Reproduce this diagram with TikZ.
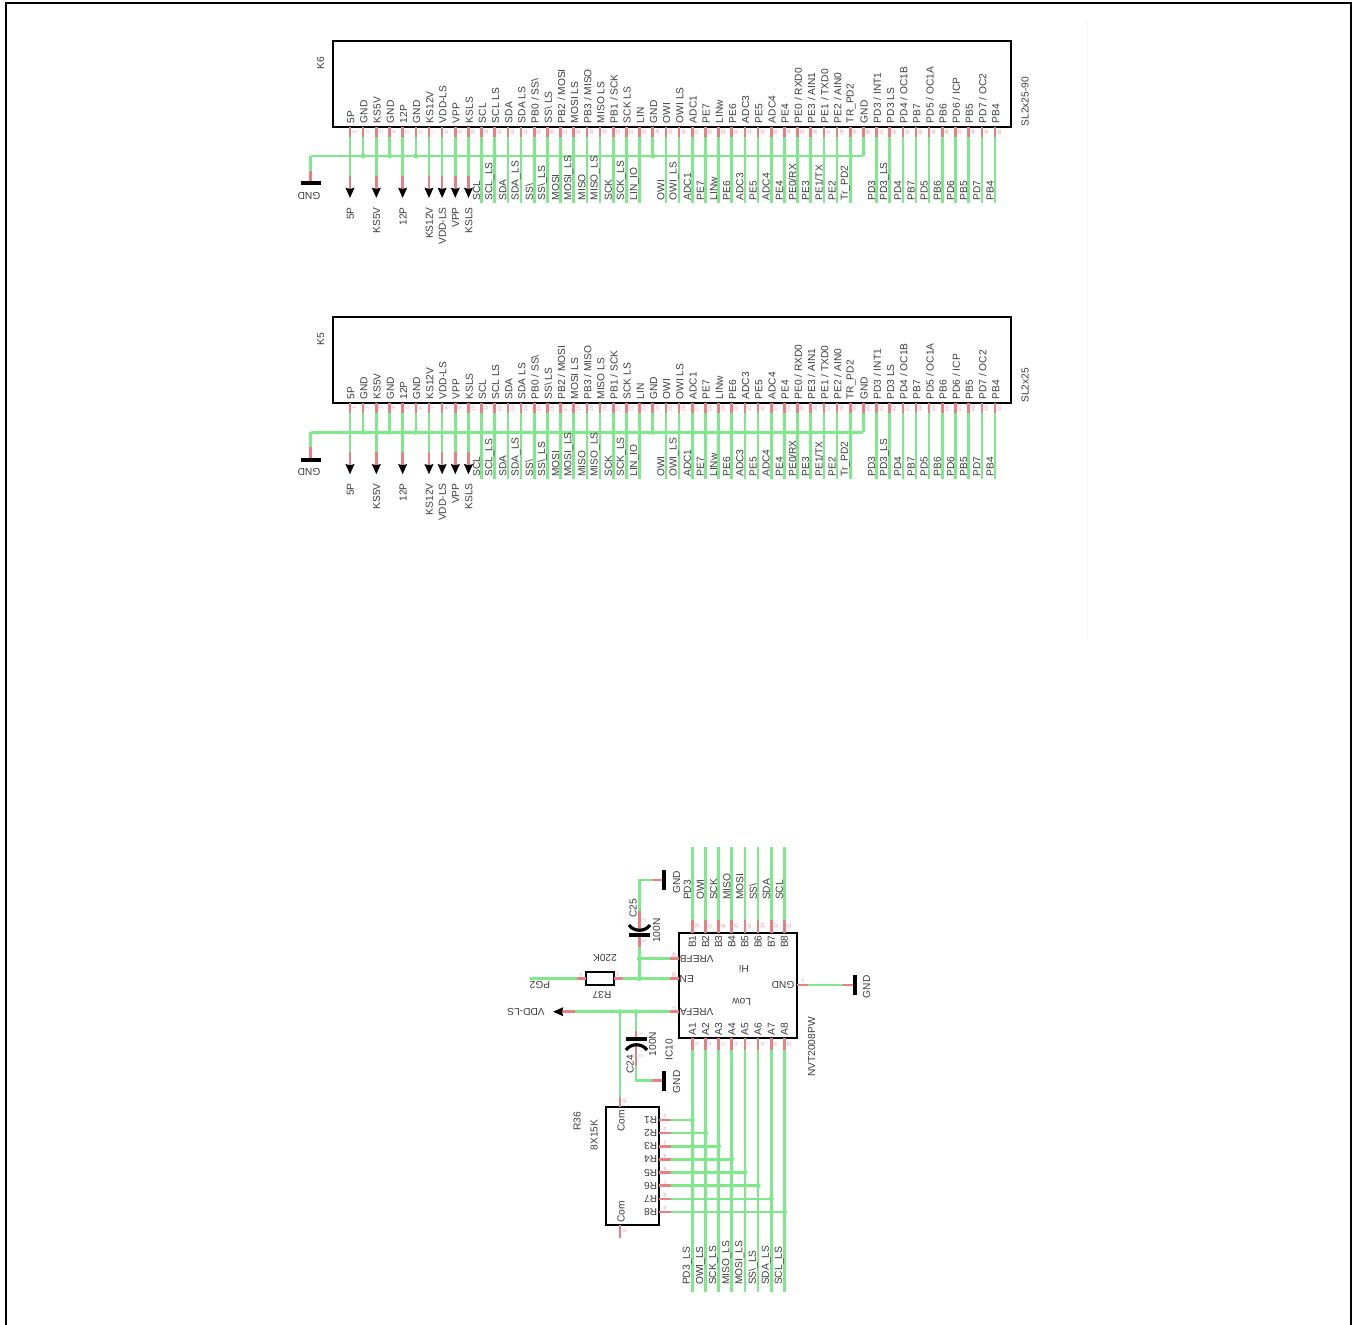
\documentclass[tikz,border=0pt]{standalone}
\usepackage{fontspec}
\setmainfont{Liberation Sans}
\usetikzlibrary{arrows.meta}
\definecolor{wiregreen}{HTML}{7FE88A}
\definecolor{pinred}{HTML}{E87F87}
\definecolor{labelink}{HTML}{3C3C3C}
\definecolor{numpink}{HTML}{E89AA0}
\tikzset{
  wire/.style={wiregreen,line width=2.6pt},
  pinstub/.style={pinred,line width=2.6pt},
  outline/.style={draw=black,line width=2.2pt,inner sep=0pt,outer sep=0pt},
  plate/.style={black,line width=3.2pt},
  gndbar/.style={black,line width=4pt},
  dot/.style={circle,fill=wiregreen,inner sep=0pt,minimum size=5pt},
  lab/.style={font=\fontsize{10.2}{10.2}\selectfont,text=labelink,inner sep=0pt},
  uplab/.style={lab,rotate=90},
  downlab/.style={lab,rotate=180},
  pinnum/.style={font=\fontsize{5}{5}\selectfont,text=numpink,inner sep=0pt,rotate=90},
  pinnumh/.style={font=\fontsize{5}{5}\selectfont,text=numpink,inner sep=0pt,rotate=180},
  tip/.style={-{Stealth[length=10pt,width=8.5pt,inset=1pt,black]}}
}
\def\upperlist{5P,GND,KS5V,GND,12P,GND,KS12V,VDD-LS,VPP,KSLS,SCL,SCL LS,SDA,SDA LS,PB0 / SS\textbackslash,SS\textbackslash{} LS,PB2 / MOSI,MOSI LS,PB3 / MISO,MISO LS,PB1 / SCK,SCK LS,LIN,GND,OWI,OWI LS,ADC1,PE7,LINw,PE6,ADC3,PE5,ADC4,PE4,PE0 / RXD0,PE3 / AIN1,PE1 / TXD0,PE2 / AIN0,TR\_PD2,GND,PD3 / INT1,PD3 LS,PD4 / OC1B,PB7,PD5 / OC1A,PB6,PD6 / ICP,PB5,PD7 / OC2,PB4}
\newcommand{\connector}[4]{%
\begin{scope}[yshift=#2]
  \node[outline,minimum width=678pt,minimum height=86pt,anchor=north west] (#1) at (333,41) {};
  \node[uplab] (#1name) at (320.7,63) {#1};
  \node[uplab] (#1val) at (1025,#4) {#3};
  \coordinate (#1gndA) at (310.7,156);
  \coordinate (#1gndB) at (310.7,171);
  \coordinate (#1gndC) at (310.7,183.3);
  \coordinate (#1gndE) at (863.3,156);
  \foreach \t [count=\i] in \upperlist {
    \pgfmathsetmacro\px{350+(\i-1)*13.163}
    \coordinate (#1p\i) at (\px,127);
    \coordinate (#1q\i) at (\px,137);
    \coordinate (#1b\i) at (\px,156);
    \node[uplab,anchor=west] (#1u\i) at (\px+0.8,123.3) {\t};
    \node[pinnum] (#1n\i) at (\px+4.5,132) {\i};
  }
  \draw[wire] (#1gndA) -- (#1gndB);
  \draw[wire] (#1gndA) -- (#1gndE);
  \draw[pinstub] (#1gndB) -- (#1gndC);
  \draw[gndbar] (300.7,183.3) -- (320.7,183.3);
  \node[downlab] (#1gl) at (309,196) {GND};
  \foreach \i in {2,4,6,24,40} {
    \draw[wire] (#1q\i) -- (#1b\i);
    \ifnum\i<40 \node[dot] (#1j\i) at (#1b\i) {};\fi
  }
  \foreach \i/\t in {1/5P,3/KS5V,5/12P,7/KS12V,8/VDD-LS,9/VPP,10/KSLS} {
    \path (#1p\i) ++(0,49) coordinate (#1r\i) ++(0,22) coordinate (#1e\i);
    \draw[wire] (#1q\i) -- (#1r\i);
    \draw[pinstub,tip] (#1r\i) -- (#1e\i);
    \path (#1p\i) ++(0.3,80) node[uplab,anchor=east] (#1t\i) {\t};
  }
  \foreach \i/\t in {11/SCL,12/SCL\_LS,13/SDA,14/SDA\_LS,15/SS\textbackslash,16/SS\textbackslash\_LS,17/MOSI,18/MOSI\_LS,19/MISO,20/MISO\_LS,21/SCK,22/SCK\_LS,23/LIN\_IO,25/OWI,26/OWI\_LS,27/ADC1,28/PE7,29/LINw,30/PE6,31/ADC3,32/PE5,33/ADC4,34/PE4,35/PE0\slash RX,36/PE3,37/PE1\slash TX,38/PE2,39/Tr\_PD2,41/PD3,42/PD3\_LS,43/PD4,44/PB7,45/PD5,46/PB6,47/PD6,48/PB5,49/PD7,50/PB4} {
    \path (#1p\i) ++(0,76) coordinate (#1e\i);
    \draw[wire] (#1q\i) -- (#1e\i);
    \path (#1p\i) ++(-5,73.5) node[uplab,anchor=west] (#1t\i) {\t};
  }
  \foreach \t [count=\i] in \upperlist {
    \draw[pinstub] (#1p\i) -- (#1q\i);
  }
\end{scope}}
\begin{document}
\begin{tikzpicture}[x=1pt,y=-1pt]
\useasboundingbox (0,0) rectangle (1352,1325);
\fill[white] (0,0) rectangle (1352,1325);
% sheet frame
\draw[black,line width=2.4pt] (6,1325) -- (6,3) -- (1350.8,3) -- (1350.8,1325);
\draw[black!4,line width=0.8pt] (1087,20) -- (1087,640);

\connector{K6}{0pt}{SL2x25-90}{101.7}
\connector{K5}{-276.3pt}{SL2x25}{109}

% ---- level shifter IC10
\node[outline,minimum width=118pt,minimum height=105pt,anchor=north west] (ic) at (679,933) {};
\node[uplab] (icname) at (669,1050) {IC10};
\node[uplab] (icval) at (811.7,1047) {NVT2008PW};
\node[downlab] (icH) at (744,969) {Hi};
\node[downlab] (icL) at (741.7,1001.7) {Low};
\node[downlab] (icVB) at (696.7,958.7) {VREFB};
\node[downlab] (icEN) at (686.7,978.7) {EN};
\node[downlab] (icVA) at (696.7,1011.7) {VREFA};
\node[downlab] (icG) at (783,984.5) {GND};

\foreach \k/\tb/\ta/\nb/\na in {
  1/PD3/{PD3\_LS}/18/3,
  2/OWI/{OWI\_LS}/17/4,
  3/SCK/{SCK\_LS}/16/5,
  4/MISO/{MISO\_LS}/15/6,
  5/MOSI/{MOSI\_LS}/14/7,
  6/SS\textbackslash/{SS\textbackslash\_LS}/13/8,
  7/SDA/{SDA\_LS}/12/9,
  8/SCL/{SCL\_LS}/11/10} {
  \pgfmathsetmacro\px{692.3+(\k-1)*13.16}
  \coordinate (bp\k) at (\px,933);
  \coordinate (bq\k) at (\px,920);
  \coordinate (be\k) at (\px,847);
  \coordinate (ap\k) at (\px,1038);
  \coordinate (aq\k) at (\px,1050);
  \coordinate (ae\k) at (\px,1292);
  \draw[wire] (be\k) -- (bq\k);
  \draw[pinstub] (bq\k) -- (bp\k);
  \draw[wire] (aq\k) -- (ae\k);
  \draw[pinstub] (ap\k) -- (aq\k);
  \node[uplab] (bl\k) at (\px,941.7) {B\k};
  \node[uplab] (al\k) at (\px,1029.5) {A\k};
  \node[uplab,anchor=west] (bt\k) at (\px-5,900) {\tb};
  \node[uplab,anchor=west] (at\k) at (\px-5,1285) {\ta};
  \node[pinnum] (bn\k) at (\px+4.5,926) {\nb};
  \node[pinnum] (an\k) at (\px+4.5,1044) {\na};
}

% ---- GND at right of IC
\coordinate (gr0) at (797,985);
\coordinate (gr1) at (808,985);
\coordinate (gr2) at (843,985);
\coordinate (gr3) at (855,985);
\draw[wire] (gr1) -- (gr2);
\draw[pinstub] (gr0) -- (gr1);
\draw[pinstub] (gr2) -- (gr3);
\draw[gndbar] (855,975) -- (855,995);
\node[uplab] (grl) at (866.7,986.7) {GND};
\node[pinnumh] (grn) at (803,981.5) {1};

% ---- C25 and VREFB / EN
\coordinate (c25gnd) at (664.3,880);
\coordinate (c25s) at (652,880);
\coordinate (c25c) at (639.3,880);
\coordinate (c25a) at (639.3,911);
\coordinate (c25b) at (639.3,929);
\coordinate (c25d) at (639.3,935);
\coordinate (c25e) at (639.3,947);
\coordinate (jvb) at (639.3,958.7);
\coordinate (jen) at (639.3,978.7);
\draw[wire] (c25s) -- (c25c) -- (c25a);
\draw[pinstub] (c25gnd) -- (c25s);
\draw[pinstub] (c25a) -- (c25b);
\draw[pinstub] (c25d) -- (c25e);
\draw[wire] (c25e) -- (jen);
\draw[gndbar] (664.3,870) -- (664.3,890);
\node[uplab] (gt) at (676.7,882) {GND};
\draw[plate] (629,925) .. controls (634,932) and (645,932) .. (650,925);
\draw[plate] (629,935) -- (650,935);
\node[uplab] (c25n) at (633,908) {C25};
\node[uplab] (c25v) at (656.7,930.7) {100N};
\node[pinnum] (c25p1) at (644,920) {2};
\node[pinnum] (c25p2) at (644,941) {1};
\coordinate (vb0) at (670,958.7);
\coordinate (vb1) at (679,958.7);
\draw[wire] (jvb) -- (vb0);
\draw[pinstub] (vb0) -- (vb1);
\node[pinnum] (vbn) at (674,955) {19};
\node[dot] (jvbd) at (jvb) {};
\node[dot] (jend) at (jen) {};

% ---- R37
\node[outline,minimum width=28pt,minimum height=13pt] (r37) at (600,978.7) {};
\node[downlab] (r37v) at (605,958) {220K};
\node[downlab] (r37n) at (602,995) {R37};
\node[downlab] (pg2) at (540,984.5) {PG2};
\coordinate (pg2e) at (530,978.7);
\coordinate (r37a) at (577,978.7);
\coordinate (r37b) at (623,978.7);
\coordinate (en0) at (670,978.7);
\coordinate (en1) at (679,978.7);
\draw[wire] (pg2e) -- (r37a);
\draw[pinstub] (r37a) -- (r37.west);
\draw[pinstub] (r37.east) -- (r37b);
\draw[wire] (r37b) -- (en0);
\draw[pinstub] (en0) -- (en1);
\node[pinnum] (enn) at (674,975) {20};
\node[pinnumh] (r37p2) at (581,975.5) {2};
\node[pinnumh] (r37p1) at (618,975.5) {1};

% ---- VREFA and VDD-LS
\coordinate (va1) at (679,1011.7);
\coordinate (va0) at (670,1011.7);
\coordinate (vd0) at (575,1011.7);
\coordinate (vd1) at (553,1011.7);
\draw[wire] (va0) -- (vd0);
\draw[pinstub] (va1) -- (va0);
\draw[pinstub,tip] (vd0) -- (vd1);
\node[downlab] (vdd) at (526,1011.7) {VDD-LS};
\node[pinnum] (van) at (674,1008) {2};
\coordinate (jr) at (620,1011.7);
\coordinate (jc) at (636,1011.7);
\node[dot] (jrd) at (jr) {};
\node[dot] (jcd) at (jc) {};

% ---- C24
\coordinate (c24a) at (636,1031);
\coordinate (c24b) at (636,1039);
\coordinate (c24d) at (636,1046);
\coordinate (c24e) at (636,1066);
\coordinate (c24f) at (636,1080.7);
\coordinate (c24s) at (652,1080.7);
\coordinate (c24g) at (664.3,1080.7);
\draw[wire] (jc) -- (c24a);
\draw[pinstub] (c24a) -- (c24b);
\draw[pinstub] (c24d) -- (c24e);
\draw[wire] (c24e) -- (c24f) -- (c24s);
\draw[pinstub] (c24s) -- (c24g);
\draw[gndbar] (664.3,1071) -- (664.3,1091);
\node[uplab] (gb) at (676.7,1081.7) {GND};
\draw[plate] (626,1039) -- (647,1039);
\draw[plate] (626,1050) .. controls (631,1043) and (642,1043) .. (647,1050);
\node[uplab] (c24n) at (630,1064) {C24};
\node[uplab] (c24v) at (652.7,1044) {100N};
\node[pinnum] (c24p1) at (641,1034) {1};
\node[pinnum] (c24p2) at (641,1056) {2};

% ---- R36 network
\node[outline,minimum width=53.3pt,minimum height=118.3pt,anchor=north west] (r36) at (606,1106.7) {};
\node[uplab] (r36n) at (577,1121) {R36};
\node[uplab] (r36v) at (594,1135) {8X15K};
\node[uplab] (com1) at (621,1121) {Com};
\node[uplab] (com2) at (621,1211.7) {Com};
\coordinate (ct) at (620,1106.7);
\coordinate (cu) at (620,1097);
\coordinate (cb) at (620,1225);
\coordinate (cl) at (620,1238);
\draw[wire] (jr) -- (cu);
\draw[pinstub] (cu) -- (ct);
\draw[pinstub] (cb) -- (cl);
\node[pinnum] (ctn) at (625,1101) {10};
\node[pinnum] (cbn) at (625,1231) {5};
\foreach \k/\n in {1/1,2/2,3/3,4/4,5/6,6/7,7/8,8/9} {
  \pgfmathsetmacro\ry{1120+(\k-1)*13.14}
  \pgfmathsetmacro\px{692.3+(\k-1)*13.16}
  \coordinate (rp\k) at (659.3,\ry);
  \coordinate (rq\k) at (671,\ry);
  \coordinate (rj\k) at (\px,\ry);
  \draw[wire] (rq\k) -- (rj\k);
  \draw[pinstub] (rp\k) -- (rq\k);
  \node[dot] (rd\k) at (rj\k) {};
  \node[downlab] (rl\k) at (650.7,\ry) {R\k};
  \node[pinnumh] (rn\k) at (665,\ry-3.5) {\n};
}
\end{tikzpicture}
\end{document}
